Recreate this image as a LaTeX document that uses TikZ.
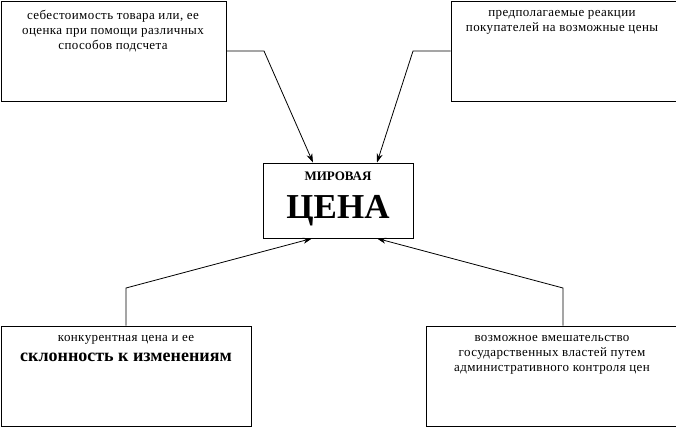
\documentclass[tikz,border=0pt]{standalone}
\usepackage{fontspec}
\setmainfont{Liberation Serif}
\newfontfamily\spacedfont[LetterSpace=3]{Liberation Serif}
\usetikzlibrary{arrows.meta,calc}
\begin{document}
\begin{tikzpicture}[x=1pt,y=-1pt,
  box/.style={draw, line width=0.9pt, rectangle, inner sep=0pt},
  txt/.style={anchor=north, align=center, inner sep=0pt, font=\spacedfont\fontsize{13}{15}\selectfont},
  conn/.style={line width=0.8pt, -{Stealth[length=9pt,width=6pt]}}]
\useasboundingbox (0,0) rectangle (676,426);
\clip (0,0) rectangle (676,426);
\fill[white] (0,0) rectangle (676,426);
% boxes
\node[box, minimum width=225pt, minimum height=100pt] (b1) at (113.5,51) {};
\node[box, minimum width=225pt, minimum height=100pt] (b2) at (563.5,51) {};
\node[box, minimum width=150pt, minimum height=75pt] (c) at (338,200.5) {};
\node[box, minimum width=250pt, minimum height=100pt] (b3) at (126,376) {};
\node[box, minimum width=250pt, minimum height=100pt] (b4) at (551,376) {};
% texts
\node[txt] (t1) at (113,10) {себестоимость товара или, ее\\оценка при помощи различных\\способов подсчета};
\node[txt] (t2) at (562,10) {предполагаемые реакции\\покупателей на возможные цены};
\node[txt] (t3) at (126,335) {конкурентная цена и ее};
\node[txt, font=\bfseries\fontsize{18}{20}\selectfont] (t3b) at (126,353) {склонность к изменениям};
\node[txt] (t4) at (552,335) {возможное вмешательство\\государственных властей путем\\административного контроля цен};
\node[txt, font=\bfseries\fontsize{13}{15}\selectfont] (m) at (338,172) {МИРОВАЯ};
\node[txt, font=\bfseries\fontsize{35}{38}\selectfont] (ts) at (338,195) {ЦЕНА};
% connectors
\coordinate (k1) at (264,51);
\coordinate (k2) at (413,51);
\coordinate (k3) at (126,288);
\coordinate (k4) at (563,288);
\coordinate (s4) at ([xshift=12pt]b4.north);
\draw[conn] (b1.east) -- (k1) -- ([xshift=-25pt]c.north);
\draw[conn] (b2.west) -- (k2) -- ([xshift=39pt]c.north);
\draw[conn] (b3.north) -- (k3) -- ([xshift=-26pt]c.south);
\draw[conn] (s4) -- (k4) -- ([xshift=39pt]c.south);
\end{tikzpicture}
\end{document}
